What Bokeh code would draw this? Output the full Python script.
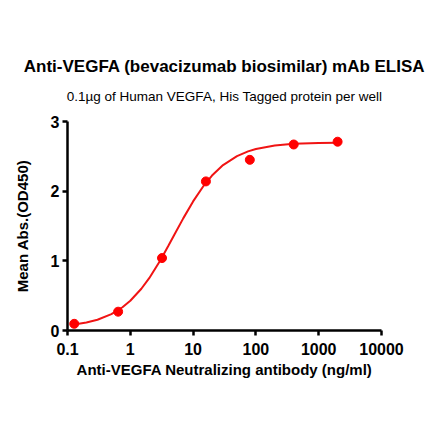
from bokeh.plotting import figure
from bokeh.models import Title, FixedTicker, CustomJSTickFormatter, Range1d
from bokeh.embed import file_html
from bokeh.resources import INLINE

# measured points (ng/ml, OD450)
conc = [0.128, 0.64, 3.2, 16, 80, 400, 2000]
od450 = [0.096, 0.27, 1.04, 2.14, 2.45, 2.67, 2.71]

# fitted curve
curve_x = [0.128, 0.2, 0.3, 0.5, 0.75, 1, 1.5, 2, 3, 4, 5, 7, 10, 15, 20,
           30, 50, 75, 100, 200, 400, 1000, 2000]
curve_y = [0.086, 0.115, 0.155, 0.236, 0.334, 0.427, 0.599, 0.751, 1.006,
           1.208, 1.37, 1.613, 1.853, 2.088, 2.224, 2.375, 2.504, 2.571,
           2.605, 2.655, 2.679, 2.692, 2.696]

x_ticks = [0.1, 1, 10, 100, 1000, 10000]
y_ticks = [0, 1, 2, 3]

font = "Liberation Sans"

p = figure(width=432, height=433, x_axis_type="log",
           x_range=Range1d(0.1, 10000), y_range=Range1d(0, 3),
           output_backend="svg", toolbar_location=None,
           min_border_left=67, min_border_right=51,
           min_border_top=121, min_border_bottom=103)

p.line(curve_x, curve_y, line_color="#f01414", line_width=2)
p.scatter(conc, od450, size=9, fill_color="red", line_color="red")

# titles, subtitle first so it sits next to the frame
p.add_layout(Title(text="0.1\u00b5g of Human VEGFA, His Tagged protein per well",
                   align="center", text_font=font, text_font_size="13.5px",
                   text_font_style="normal", text_color="black", standoff=35), "above")
p.add_layout(Title(text="Anti-VEGFA (bevacizumab biosimilar) mAb ELISA",
                   align="center", text_font=font, text_font_size="17px",
                   text_font_style="bold", text_color="black", standoff=-12), "above")

p.xaxis.ticker = FixedTicker(ticks=x_ticks)
p.xaxis.formatter = CustomJSTickFormatter(code="return String(Number(tick.toPrecision(6)));")
p.yaxis.ticker = FixedTicker(ticks=y_ticks)

p.xaxis.axis_label = "Anti-VEGFA Neutralizing antibody (ng/ml)"
p.yaxis.axis_label = "Mean Abs.(OD450)"

for ax in (p.xaxis, p.yaxis):
    ax.axis_line_width = 2.5
    ax.axis_line_color = "black"
    ax.major_tick_line_width = 2.5
    ax.major_tick_line_color = "black"
    ax.major_tick_out = 5
    ax.major_tick_in = 0
    ax.minor_tick_line_color = None
    ax.major_label_text_font = font
    ax.major_label_text_font_style = "bold"
    ax.major_label_text_font_size = "16px"
    ax.major_label_text_color = "black"
    ax.axis_label_text_font = font
    ax.axis_label_text_font_style = "bold"
    ax.axis_label_text_font_size = "15px"
    ax.axis_label_text_color = "black"

p.xaxis.major_label_standoff = 7
p.xaxis.axis_label_standoff = 3
p.yaxis.major_label_standoff = 3
p.yaxis.axis_label_standoff = 17

p.xgrid.grid_line_color = None
p.ygrid.grid_line_color = None
p.outline_line_color = None

open("out.html", "w").write(file_html(p, INLINE))
